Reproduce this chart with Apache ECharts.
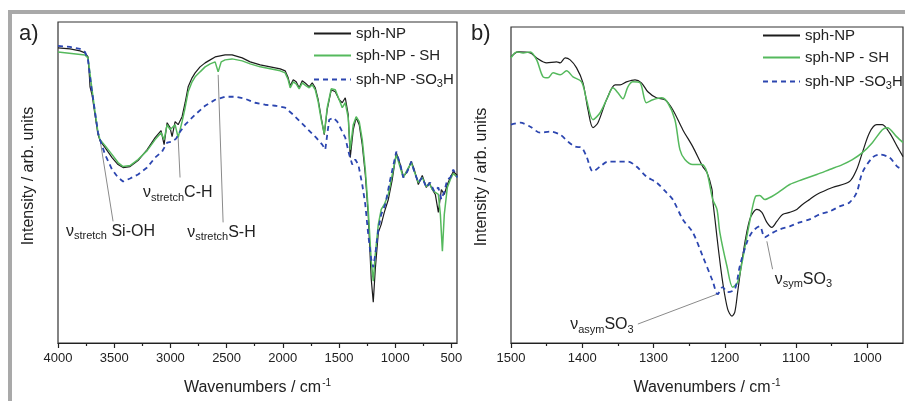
<!DOCTYPE html>
<html>
<head>
<meta charset="utf-8">
<script src="https://cdn.jsdelivr.net/npm/echarts@6/dist/echarts.min.js"></script>
<style>
  html, body { margin: 0; padding: 0; background: #fff; }
  #chart { width: 905px; height: 401px; }
</style>
</head>
<body>
<div id="chart"></div>
<script>
var seriesNames = ['sph-NP', 'sph-NP - SH', 'sph-NP -SO3H'];
var colors = ['#1c1c1c', '#55b95d', '#2c46b0'];

// tick positions (wavenumbers)
var majorTicksA = [4000, 3500, 3000, 2500, 2000, 1500, 1000, 500];
var minorTicksA = [3750, 3250, 2750, 2250, 1750, 1250, 750];
var majorTicksB = [1500, 1400, 1300, 1200, 1100, 1000];
var minorTicksB = [1450, 1350, 1250, 1150, 1050];

// panel a) full range spectra  [wavenumber, intensity]
var npA = [[4000,296],[3893,295],[3804,293],[3760,291],[3733,287],[3724,274],[3715,257],[3697,249],[3671,229],[3644,209],
  [3626,203],[3581,196],[3519,186],[3466,179],[3421,176],[3359,177],[3288,183],[3207,194],[3136,206],[3083,213],
  [3056,199],[3029,221],[3003,216],[2985,207],[2958,222],[2931,219],[2896,227],[2869,241],[2842,257],[2807,266],
  [2780,271],[2736,277],[2691,281],[2646,284],[2602,287],[2557,288],[2513,289],[2451,289],[2361,286],[2290,282],
  [2201,279],[2112,277],[2023,275],[1979,273],[1952,266],[1934,258],[1907,264],[1881,262],[1854,256],[1827,263],
  [1792,260],[1765,257],[1738,261],[1711,256],[1685,244],[1658,226],[1631,209],[1605,234],[1569,254],[1533,252],
  [1498,244],[1471,241],[1444,246],[1418,229],[1400,186],[1373,214],[1347,226],[1320,219],[1293,199],[1266,169],
  [1240,129],[1213,64],[1195,41],[1177,74],[1150,111],[1124,119],[1097,131],[1061,144],[1026,164],[990,191],
  [955,179],[928,167],[892,172],[857,182],[830,174],[794,159],[759,168],[723,156],[697,161],[670,154],
  [643,149],[616,131],[589,154],[563,149],[536,159],[509,166],[483,172],[447,168]];
var shA = [[4000,292],[3760,289],[3733,286],[3697,254],[3671,232],[3644,211],[3626,204],[3581,198],[3519,189],[3466,181],
  [3421,177],[3359,178],[3288,184],[3207,193],[3136,204],[3083,211],[3056,204],[3029,219],[3003,214],[2985,216],
  [2958,219],[2931,206],[2896,222],[2869,236],[2842,252],[2807,262],[2780,267],[2736,272],[2691,277],[2646,280],
  [2602,282],[2575,272],[2548,282],[2513,284],[2451,285],[2361,283],[2290,280],[2201,277],[2112,275],[2023,273],
  [1979,271],[1952,264],[1934,256],[1907,262],[1881,260],[1854,255],[1827,261],[1792,258],[1765,256],[1738,259],
  [1711,254],[1685,242],[1658,224],[1631,210],[1605,236],[1569,255],[1533,254],[1498,244],[1471,236],[1444,241],
  [1418,226],[1400,194],[1373,219],[1347,227],[1320,222],[1293,204],[1266,174],[1240,134],[1213,82],[1195,62],
  [1177,89],[1150,119],[1124,134],[1097,139],[1061,149],[1026,169],[990,189],[955,176],[928,166],[892,174],
  [857,181],[830,172],[794,161],[759,166],[723,157],[697,160],[670,154],[643,151],[616,149],[598,129],
  [580,92],[563,129],[536,156],[509,164],[483,170],[447,166]];
var so3hA = [[4000,298],[3893,297],[3804,295],[3760,292],[3733,284],[3706,259],[3671,232],[3644,211],[3626,204],[3581,189],
  [3519,174],[3466,166],[3421,162],[3359,165],[3288,169],[3207,176],[3136,186],[3074,192],[3029,201],[2985,202],
  [2949,205],[2914,212],[2869,219],[2780,229],[2691,238],[2602,244],[2513,247],[2424,247],[2335,245],[2246,241],
  [2157,239],[2068,238],[1979,236],[1907,229],[1845,222],[1774,214],[1703,206],[1649,199],[1622,194],[1587,224],
  [1551,226],[1515,222],[1480,214],[1444,206],[1409,189],[1382,179],[1355,184],[1328,179],[1293,159],[1266,139],
  [1240,109],[1213,84],[1195,76],[1177,89],[1150,114],[1124,129],[1088,139],[1044,164],[990,192],[955,179],
  [928,166],[892,172],[857,182],[830,172],[794,161],[759,166],[723,156],[688,161],[652,152],[616,156],
  [589,144],[563,152],[536,164],[509,166],[483,174],[447,166]];

// panel b) 1500-950 cm-1 detail
var npB = [[1500,287],[1490,292],[1473,291],[1464,286],[1450,281],[1436,282],[1431,281],[1424,286],[1417,284],[1408,276],
  [1399,261],[1392,234],[1385,216],[1378,221],[1366,244],[1354,259],[1347,259],[1338,262],[1326,264],[1317,261],
  [1308,252],[1296,246],[1284,244],[1273,234],[1259,214],[1245,197],[1231,177],[1225,171],[1218,154],[1217,144],
  [1213,119],[1209,94],[1203,61],[1196,34],[1190,27],[1186,31],[1182,51],[1175,87],[1165,124],[1155,134],
  [1148,131],[1141,121],[1134,116],[1127,122],[1119,129],[1109,131],[1099,134],[1091,139],[1081,144],[1071,149],
  [1049,156],[1025,162],[1015,174],[1007,191],[997,211],[987,219],[979,219],[969,211],[958,197],[950,187]];
var shB = [[1500,286],[1492,292],[1483,291],[1473,292],[1464,284],[1455,267],[1448,266],[1441,271],[1431,269],[1422,273],
  [1413,267],[1401,262],[1394,244],[1385,224],[1375,231],[1364,247],[1357,256],[1350,251],[1343,245],[1336,257],
  [1329,262],[1319,261],[1310,241],[1301,244],[1289,246],[1280,241],[1270,224],[1263,194],[1256,184],[1245,179],
  [1232,179],[1225,171],[1217,144],[1211,134],[1207,111],[1197,77],[1189,56],[1182,61],[1175,84],[1165,122],
  [1157,147],[1151,148],[1144,144],[1134,147],[1123,152],[1109,159],[1091,164],[1071,169],[1053,174],[1035,179],
  [1021,184],[1007,191],[993,201],[979,214],[972,216],[959,207],[950,201]];
var so3hB = [[1500,219],[1487,221],[1473,217],[1459,211],[1445,212],[1431,209],[1420,202],[1410,197],[1401,196],[1394,187],
  [1385,172],[1375,177],[1364,182],[1350,182],[1336,182],[1324,177],[1310,167],[1296,161],[1282,151],[1273,144],
  [1259,124],[1245,111],[1231,87],[1217,62],[1210,49],[1203,56],[1196,51],[1186,54],[1179,77],[1169,101],
  [1161,112],[1151,117],[1144,106],[1137,109],[1123,114],[1109,117],[1095,121],[1081,124],[1067,129],[1053,132],
  [1039,137],[1025,141],[1015,151],[1007,171],[993,186],[983,189],[969,186],[958,177],[950,174]];

// band assignments: leader from band -> label, in data units of each panel
var notes = [
  {grid: 0, from: [3626, 204], to: [3510, 122], at: [3929, 112], text: '{n|ν}{s|stretch}{t| Si-OH}'},
  {grid: 0, from: [2931, 206], to: [2914, 166], at: [3243, 151], text: '{n|ν}{s|stretch}{t|C-H}'},
  {grid: 0, from: [2575, 269], to: [2531, 121], at: [2851, 111], text: '{n|ν}{s|stretch}{t|S-H}'},
  {grid: 1, from: [1211, 49], to: [1322, 19], at: [1417, 18], text: '{n|ν}{s|asym}{t|SO}{s|3}'},
  {grid: 1, from: [1141, 102], to: [1133, 74], at: [1130, 64], text: '{n|ν}{s|sym}{t|SO}{s|3}'}
];

var font = '"Liberation Sans", Arial, sans-serif';
var ink = '#222';

var chart = echarts.init(document.getElementById('chart'));

function xAxes(grid, min, max, major, minor) {
  return [
    {
      gridIndex: grid, type: 'value', min: min, max: max, inverse: true, position: 'bottom',
      axisLine: {show: true, lineStyle: {color: ink, width: 1.2}},
      splitLine: {show: false},
      axisTick: {show: true, customValues: major, length: 5, lineStyle: {color: ink, width: 1.2}},
      axisLabel: {customValues: major, margin: 9, fontSize: 13, color: ink, fontFamily: font,
        formatter: function (v) { return String(v); }},
      name: '{t|Wavenumbers / cm}{u|-1}', nameLocation: 'middle', nameGap: 35,
      nameTextStyle: {
        fontFamily: font, color: ink,
        rich: {
          t: {fontSize: 16, fontFamily: font, color: ink},
          u: {fontSize: 10, fontFamily: font, color: ink, padding: [0, 0, 10, 1]}
        }
      }
    },
    {
      gridIndex: grid, type: 'value', min: min, max: max, inverse: true, position: 'bottom',
      axisLine: {show: false}, splitLine: {show: false}, axisLabel: {show: false},
      axisTick: {show: true, customValues: minor, length: 3, lineStyle: {color: ink, width: 1.2}}
    }
  ];
}

function line(name, data, xi, yi, idx, smooth) {
  return {
    name: name, type: 'line', xAxisIndex: xi, yAxisIndex: yi, data: data,
    symbol: 'none', smooth: smooth, animation: false,
    lineStyle: idx === 2
      ? {color: colors[2], width: 1.8, type: [5, 4]}
      : {color: colors[idx], width: idx === 0 ? 1.2 : 1.5},
    itemStyle: {color: colors[idx]}
  };
}

function legendFmt(name) {
  if (name === 'sph-NP -SO3H') return '{b|sph-NP -SO}{s|3}{b|H}';
  return '{b|' + name + '}';
}

function legend(left, top) {
  return {
    left: left, top: top, padding: 0, orient: 'vertical', itemWidth: 37, itemHeight: 14, itemGap: 7,
    data: seriesNames, formatter: legendFmt,
    itemStyle: {opacity: 0},
    textStyle: {
      fontSize: 15, color: ink, fontFamily: font,
      rich: {
        b: {fontSize: 15, color: ink, fontFamily: font, lineHeight: 14},
        s: {fontSize: 11, color: ink, fontFamily: font, lineHeight: 14, padding: [8, 0, 0, 0]}
      }
    }
  };
}

chart.setOption({
  animation: false,
  grid: [
    {left: 58, top: 22, width: 399, height: 322, show: true, borderColor: '#333', borderWidth: 1.2},
    {left: 511, top: 27, width: 392, height: 317, show: true, borderColor: '#333', borderWidth: 1.2}
  ],
  xAxis: xAxes(0, 450, 4000, majorTicksA, minorTicksA).concat(xAxes(1, 950, 1500, majorTicksB, minorTicksB)),
  yAxis: [
    {gridIndex: 0, type: 'value', min: 0, max: 322, show: false},
    {gridIndex: 1, type: 'value', min: 0, max: 317, show: false}
  ],
  legend: [legend(313, 26), legend(762, 28)],
  series: [
    line(seriesNames[0], npA, 0, 0, 0, false),
    line(seriesNames[1], shA, 0, 0, 1, false),
    line(seriesNames[2], so3hA, 0, 0, 2, false),
    line(seriesNames[0], npB, 2, 1, 0, 0.3),
    line(seriesNames[1], shB, 2, 1, 1, 0.3),
    line(seriesNames[2], so3hB, 2, 1, 2, 0.3)
  ]
});

// frame, panel letters, y-axis titles and band labels
var graphics = [
  {type: 'rect', shape: {x: 8, y: 10, width: 897, height: 4}, style: {fill: '#a9a9a9'}, silent: true},
  {type: 'rect', shape: {x: 8, y: 10, width: 4, height: 391}, style: {fill: '#a9a9a9'}, silent: true},
  {type: 'text', x: 19, y: 34, style: {text: 'a)', fontSize: 22, fontFamily: font, fill: ink, verticalAlign: 'middle'}},
  {type: 'text', x: 471, y: 34, style: {text: 'b)', fontSize: 22, fontFamily: font, fill: ink, verticalAlign: 'middle'}},
  {type: 'text', x: 29, y: 176, rotation: Math.PI / 2,
    style: {text: 'Intensity / arb. units', fontSize: 16, fontFamily: font, fill: ink, align: 'center', verticalAlign: 'middle'}},
  {type: 'text', x: 482, y: 177, rotation: Math.PI / 2,
    style: {text: 'Intensity / arb. units', fontSize: 16, fontFamily: font, fill: ink, align: 'center', verticalAlign: 'middle'}}
];
notes.forEach(function (n) {
  var finder = {xAxisIndex: n.grid * 2, yAxisIndex: n.grid};
  var p0 = chart.convertToPixel(finder, n.from);
  var p1 = chart.convertToPixel(finder, n.to);
  var pt = chart.convertToPixel(finder, n.at);
  graphics.push({type: 'line', shape: {x1: p0[0], y1: p0[1], x2: p1[0], y2: p1[1]},
    style: {stroke: '#8a8a8a', lineWidth: 1}, silent: true});
  graphics.push({type: 'text', x: pt[0], y: pt[1], style: {
    text: n.text, fontFamily: font, fill: ink, align: 'left', verticalAlign: 'middle',
    rich: {
      n: {fontSize: 16, fontFamily: font, fill: ink},
      t: {fontSize: 16, fontFamily: font, fill: ink},
      s: {fontSize: 11, fontFamily: font, fill: ink, padding: [10, 0, 0, 0]}
    }
  }});
});
chart.setOption({graphic: graphics});
</script>
</body>
</html>
